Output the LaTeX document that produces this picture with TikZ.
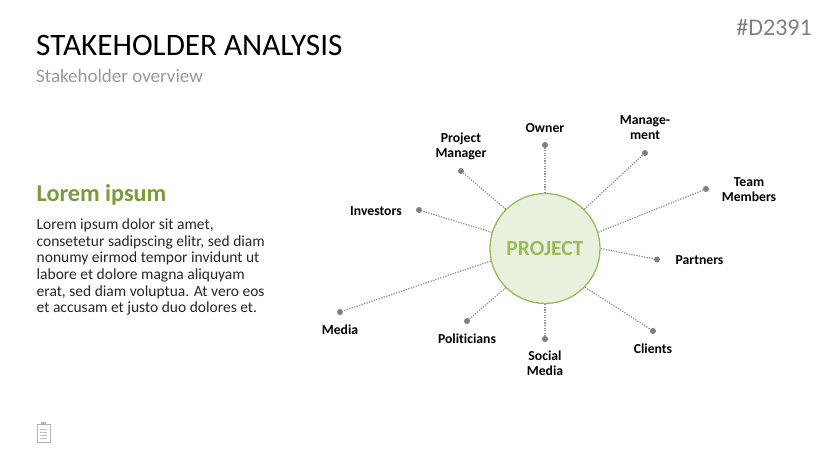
\documentclass[tikz,border=0pt]{standalone}
\usepackage{fontspec}
\setmainfont{Carlito}[Ligatures=NoCommon]
\definecolor{leaf}{RGB}{122,155,60}
\definecolor{hubline}{RGB}{155,187,89}
\definecolor{hubfill}{RGB}{234,240,222}
\definecolor{spoke}{RGB}{127,127,127}
\tikzset{
  dotnode/.style={circle,fill=spoke,inner sep=0pt,minimum size=6pt},
  spokeline/.style={draw=spoke!85,line width=1.2pt,dash pattern=on 1.3pt off 1.3pt},
  namenode/.style={align=center,font=\fontsize{13.7}{15}\selectfont\bfseries,inner sep=0pt},
}
\begin{document}
\begin{tikzpicture}[x=1pt,y=-1pt]
  \useasboundingbox (0,0) rectangle (829,466);
  %% header
  \node[anchor=west,inner sep=0pt,font=\fontsize{31.2}{34}\selectfont] (title) at (36,45.7) {STAKEHOLDER ANALYSIS};
  \node[anchor=west,inner sep=0pt,font=\fontsize{19}{21}\selectfont,text=gray!80] (subtitle) at (36,76) {Stakeholder overview};
  \node[anchor=east,inner sep=0pt,font=\fontsize{24}{26}\selectfont,text=gray] (code) at (812,27) {\#D2391};
  %% left text
  \node[anchor=west,inner sep=0pt,font=\fontsize{24.2}{27}\selectfont\bfseries,text=leaf] (head) at (36.5,194.5) {Lorem ipsum};
  \node[anchor=north west,inner sep=0pt,align=left,text=black!85,font=\fontsize{15.5}{16.6}\selectfont] (body) at (36.5,218.7)
    {Lorem ipsum dolor sit amet,\\consetetur sadipscing elitr, sed diam\\nonumy eirmod tempor invidunt ut\\labore et dolore magna aliquyam\\erat, sed diam voluptua. At vero eos\\et accusam et justo duo dolores et.};
  %% hub
  \node[circle,draw=hubline,fill=hubfill,line width=1.3pt,minimum size=110pt,inner sep=0pt,font=\fontsize{21.5}{24}\selectfont\bfseries,text=hubline] (hub) at (545,248.5) {PROJECT};
  %% spokes
  \foreach \name/\x/\y/\ang in {owner/545/145/90,manage/645/153/45,team/706/189/17.5,partners/657/259.5/0.5,clients/653/331/-44,social/545/339/-90,politicians/467/321/-135,media/340/312/-167.5,investors/419/210/163,pm/461/171/135}{
    \node[dotnode] (\name) at (\x,\y) {};
    \draw[spokeline] (hub.\ang) -- (\name);
  }
  %% names
  \node[namenode] (lowner) at (545,127.7) {Owner};
  \node[namenode] (lmanage) at (645,127.7) {Manage-\\ment};
  \node[namenode] (lteam) at (749,189.7) {Team\\Members};
  \node[namenode] (lpartners) at (699.5,259.7) {Partners};
  \node[namenode] (lclients) at (653,348.7) {Clients};
  \node[namenode] (lsocial) at (545,363.7) {Social\\Media};
  \node[namenode] (lpoliticians) at (467,338.7) {Politicians};
  \node[namenode] (lmedia) at (340,329.7) {Media};
  \node[namenode] (linvestors) at (376,210.7) {Investors};
  \node[namenode] (lpm) at (461,146.7) {Project\\Manager};
  %% clipboard icon
  \draw[gray!60,line width=0.8pt,fill=white] (37,424) rectangle (50,442);
  \draw[gray!60,line width=1.2pt] (41,423) -- (46,423);
  \foreach \y in {429,432,435,438}{
    \draw[gray!50,line width=0.8pt] (40,\y) -- (47,\y);
  }
\end{tikzpicture}
\end{document}
